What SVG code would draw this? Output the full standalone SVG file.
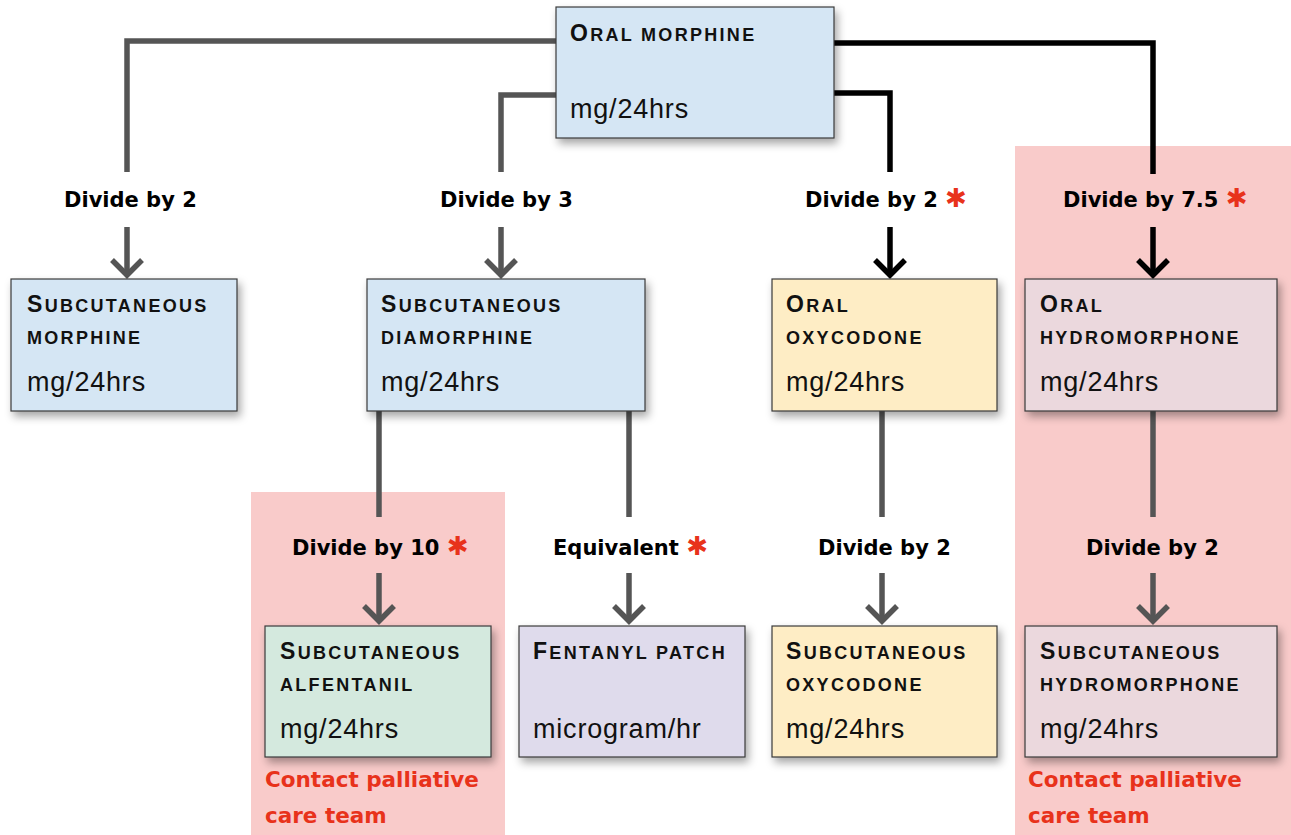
<svg xmlns="http://www.w3.org/2000/svg" width="1291" height="835" viewBox="0 0 1291 835">
<defs>
<filter id="sh" x="-10%" y="-10%" width="130%" height="140%">
<feDropShadow dx="3" dy="5" stdDeviation="4" flood-color="#000" flood-opacity="0.35"/>
</filter>
<style>
.box{stroke:#3a3a3a;stroke-width:1.2;filter:url(#sh)}
.blue{fill:#d5e6f4}.yel{fill:#feedc5}.mauve{fill:#ebd8dd}.green{fill:#d4e9de}.lav{fill:#dfdbec}
.ttl{font-family:"Liberation Sans",Arial,sans-serif;font-weight:bold;font-size:18px;letter-spacing:2.3px;fill:#111}
.big{font-size:23px}
.unit{font-family:"Liberation Sans",Arial,sans-serif;font-size:27px;letter-spacing:0.8px;fill:#111}
.lbl{font-family:"DejaVu Sans",sans-serif;font-weight:bold;font-size:21px;fill:#000}
.ast{fill:#e8321b;font-size:26px}
.warn{font-family:"DejaVu Sans",sans-serif;font-weight:bold;font-size:21.5px;fill:#e8321b}
.g{stroke:#555;stroke-width:5.5;fill:none}
.k{stroke:#000;stroke-width:5.5;fill:none}
</style>
</defs>
<rect x="0" y="0" width="1291" height="835" fill="#fff"/>
<g id="zones">
<rect x="1015" y="146" width="276" height="689" fill="#f9cbca"/>
<rect x="251" y="492" width="254" height="343" fill="#f9cbca"/>
</g>
<g id="connectors">
<polyline class="g" points="556,41 127,41 127,172"/>
<polyline class="g" points="556,95 501,95 501,172"/>
<polyline class="k" points="834,93 890,93 890,172"/>
<polyline class="k" points="834,43 1153,43 1153,174"/>
<line class="g" x1="127" y1="227" x2="127" y2="276"/>
<polyline class="g" points="112,260 127,275 142,260"/>
<line class="g" x1="501" y1="227" x2="501" y2="276"/>
<polyline class="g" points="486,260 501,275 516,260"/>
<line class="k" x1="890" y1="227" x2="890" y2="276"/>
<polyline class="k" points="875,260 890,275 905,260"/>
<line class="k" x1="1153" y1="227" x2="1153" y2="276"/>
<polyline class="k" points="1138,260 1153,275 1168,260"/>
<line class="g" x1="379" y1="411" x2="379" y2="517"/>
<line class="g" x1="629" y1="411" x2="629" y2="517"/>
<line class="g" x1="882" y1="411" x2="882" y2="517"/>
<line class="g" x1="1153" y1="411" x2="1153" y2="517"/>
<line class="g" x1="379" y1="573" x2="379" y2="622"/>
<polyline class="g" points="364,606 379,621 394,606"/>
<line class="g" x1="629" y1="573" x2="629" y2="622"/>
<polyline class="g" points="614,606 629,621 644,606"/>
<line class="g" x1="882" y1="573" x2="882" y2="622"/>
<polyline class="g" points="867,606 882,621 897,606"/>
<line class="g" x1="1153" y1="573" x2="1153" y2="622"/>
<polyline class="g" points="1138,606 1153,621 1168,606"/>
</g>
<g id="labels">
<text class="lbl" x="64" y="207">Divide by 2</text>
<text class="lbl" x="440" y="207">Divide by 3</text>
<text class="lbl" x="805" y="207">Divide by 2 <tspan class="ast">✱</tspan></text>
<text class="lbl" x="1063" y="207">Divide by 7.5 <tspan class="ast">✱</tspan></text>
<text class="lbl" x="292" y="555">Divide by 10 <tspan class="ast">✱</tspan></text>
<text class="lbl" x="553" y="555">Equivalent <tspan class="ast">✱</tspan></text>
<text class="lbl" x="818" y="555">Divide by 2</text>
<text class="lbl" x="1086" y="555">Divide by 2</text>
</g>
<g id="oral-morphine">
<rect class="box blue" x="556" y="7" width="278" height="131"/>
<text class="ttl" x="570" y="41"><tspan class="big">O</tspan>RAL MORPHINE</text>
<text class="unit" x="570" y="118">mg/24hrs</text>
</g>
<g id="sc-morphine">
<rect class="box blue" x="11" y="279" width="226" height="132"/>
<text class="ttl" x="27" y="312"><tspan class="big">S</tspan>UBCUTANEOUS</text>
<text class="ttl" x="27" y="344">MORPHINE</text>
<text class="unit" x="27" y="391">mg/24hrs</text>
</g>
<g id="sc-diamorphine">
<rect class="box blue" x="367" y="279" width="278" height="132"/>
<text class="ttl" x="381" y="312"><tspan class="big">S</tspan>UBCUTANEOUS</text>
<text class="ttl" x="381" y="344">DIAMORPHINE</text>
<text class="unit" x="381" y="391">mg/24hrs</text>
</g>
<g id="oral-oxycodone">
<rect class="box yel" x="772" y="279" width="225" height="132"/>
<text class="ttl" x="786" y="312"><tspan class="big">O</tspan>RAL</text>
<text class="ttl" x="786" y="344">OXYCODONE</text>
<text class="unit" x="786" y="391">mg/24hrs</text>
</g>
<g id="oral-hydromorphone">
<rect class="box mauve" x="1025" y="279" width="252" height="132"/>
<text class="ttl" x="1040" y="312"><tspan class="big">O</tspan>RAL</text>
<text class="ttl" x="1040" y="344">HYDROMORPHONE</text>
<text class="unit" x="1040" y="391">mg/24hrs</text>
</g>
<g id="sc-alfentanil">
<rect class="box green" x="265" y="626" width="226" height="131"/>
<text class="ttl" x="280" y="659"><tspan class="big">S</tspan>UBCUTANEOUS</text>
<text class="ttl" x="280" y="691">ALFENTANIL</text>
<text class="unit" x="280" y="738">mg/24hrs</text>
</g>
<g id="fentanyl-patch">
<rect class="box lav" x="519" y="626" width="226" height="131"/>
<text class="ttl" x="533" y="659"><tspan class="big">F</tspan>ENTANYL PATCH</text>
<text class="unit" x="533" y="738">microgram/hr</text>
</g>
<g id="sc-oxycodone">
<rect class="box yel" x="772" y="626" width="225" height="131"/>
<text class="ttl" x="786" y="659"><tspan class="big">S</tspan>UBCUTANEOUS</text>
<text class="ttl" x="786" y="691">OXYCODONE</text>
<text class="unit" x="786" y="738">mg/24hrs</text>
</g>
<g id="sc-hydromorphone">
<rect class="box mauve" x="1025" y="626" width="252" height="131"/>
<text class="ttl" x="1040" y="659"><tspan class="big">S</tspan>UBCUTANEOUS</text>
<text class="ttl" x="1040" y="691">HYDROMORPHONE</text>
<text class="unit" x="1040" y="738">mg/24hrs</text>
</g>
<g id="notes">
<text class="warn" x="265" y="787">Contact palliative</text>
<text class="warn" x="265" y="823">care team</text>
<text class="warn" x="1028" y="787">Contact palliative</text>
<text class="warn" x="1028" y="823">care team</text>
</g>
</svg>
